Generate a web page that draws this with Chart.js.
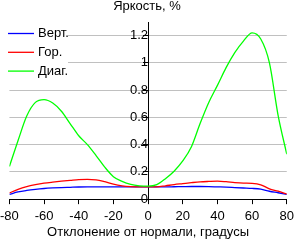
<!DOCTYPE html>
<html>
<head>
<meta charset="utf-8">
<script src="https://cdn.jsdelivr.net/npm/chart.js@4/dist/chart.umd.min.js"></script>
<style>
  html, body { margin: 0; padding: 0; background: #fff; }
  canvas { display: block; }
</style>
</head>
<body>
<canvas id="chart" width="294" height="240"></canvas>
<script>
// Angles, degrees
const angles = [-80, -75, -70, -65, -60, -55, -50, -45, -40, -35, -30, -25, -20, -15, -10, -5, 0,
                5, 10, 15, 20, 25, 30, 35, 40, 45, 50, 55, 60, 65, 70, 75, 80];

// Brightness, %
const vert = [0.035, 0.053, 0.064, 0.072, 0.078, 0.082, 0.085, 0.087, 0.089, 0.09, 0.09, 0.09, 0.09, 0.09, 0.09, 0.09, 0.09,
              0.09, 0.09, 0.091, 0.092, 0.093, 0.093, 0.092, 0.09, 0.088, 0.085, 0.082, 0.079, 0.073, 0.058, 0.047, 0.035];
const hor = [0.045, 0.072, 0.092, 0.106, 0.117, 0.125, 0.132, 0.138, 0.144, 0.145, 0.142, 0.128, 0.11, 0.098, 0.092, 0.09, 0.09,
             0.09, 0.098, 0.107, 0.114, 0.121, 0.127, 0.13, 0.132, 0.128, 0.122, 0.118, 0.116, 0.105, 0.076, 0.058, 0.037];
const diag = [0.24, 0.43, 0.61, 0.71, 0.73, 0.705, 0.645, 0.555, 0.465, 0.4, 0.32, 0.235, 0.165, 0.13, 0.108, 0.098, 0.095,
              0.106, 0.15, 0.205, 0.28, 0.385, 0.555, 0.71, 0.835, 0.965, 1.075, 1.16, 1.22, 1.175, 1.0, 0.615, 0.33];

const seriesNames = ['Верт.', 'Гор.', 'Диаг.'];
const seriesColors = ['#0000ff', '#ff0000', '#00ff00'];

const FONT = '"Liberation Sans", Arial, sans-serif';
Chart.defaults.font.family = FONT;
Chart.defaults.font.size = 13;
Chart.defaults.color = '#000';

function points(values) {
    return angles.map((a, i) => ({ x: a, y: values[i] }));
}

// Legend box drawn inside the plot, top left
const insideLegend = {
    id: 'insideLegend',
    afterDatasetsDraw(chart) {
        const ctx = chart.ctx;
        ctx.save();
        ctx.fillStyle = '#fff';
        ctx.fillRect(0, 24, 68, 56);
        ctx.font = '13px ' + FONT;
        ctx.textBaseline = 'middle';
        ctx.textAlign = 'left';
        chart.data.datasets.forEach((ds, i) => {
            const y = 33.5 + i * 18.8;
            ctx.strokeStyle = ds.borderColor;
            ctx.lineWidth = 1.3;
            ctx.beginPath();
            ctx.moveTo(8, y);
            ctx.lineTo(34, y);
            ctx.stroke();
            ctx.fillStyle = '#000';
            ctx.fillText(ds.label, 38, y);
        });
        ctx.restore();
    }
};

new Chart(document.getElementById('chart'), {
    type: 'line',
    data: {
        datasets: [
            { label: seriesNames[0], data: points(vert), borderColor: seriesColors[0], order: 2 },
            { label: seriesNames[1], data: points(hor), borderColor: seriesColors[1], order: 1 },
            { label: seriesNames[2], data: points(diag), borderColor: seriesColors[2], order: 0 }
        ]
    },
    options: {
        responsive: false,
        animation: false,
        layout: { padding: 0 },
        elements: {
            point: { radius: 0 },
            line: { borderWidth: 1.3, cubicInterpolationMode: 'monotone' }
        },
        plugins: {
            legend: { display: false },
            tooltip: { enabled: false },
            title: {
                display: true,
                text: 'Яркость, %',
                font: { size: 13, weight: 'normal', lineHeight: 1.0 },
                padding: { top: 0, bottom: 9 }
            }
        },
        scales: {
            x: {
                type: 'linear',
                min: -80,
                max: 80,
                ticks: { stepSize: 20, padding: 0, font: { lineHeight: 1.85 } },
                grid: { drawOnChartArea: false, tickLength: 5, tickColor: '#000' },
                border: { color: '#000' },
                title: {
                    display: true,
                    text: 'Отклонение от нормали, градусы',
                    font: { lineHeight: 0.6 },
                    padding: { top: 0, bottom: 4 }
                }
            },
            y: {
                position: { x: 0 },
                min: 0,
                max: 1.3,
                ticks: {
                    stepSize: 0.2,
                    includeBounds: false,
                    padding: 4,
                    callback: (v) => String(Number(v.toFixed(1)))
                },
                grid: {
                    color: (c) => (c.tick && c.tick.value === 0 ? 'rgba(0,0,0,0)' : '#c0c0c0'),
                    tickLength: 5,
                    tickColor: '#000'
                },
                border: { color: '#000' }
            }
        }
    },
    plugins: [insideLegend]
});
</script>
</body>
</html>
